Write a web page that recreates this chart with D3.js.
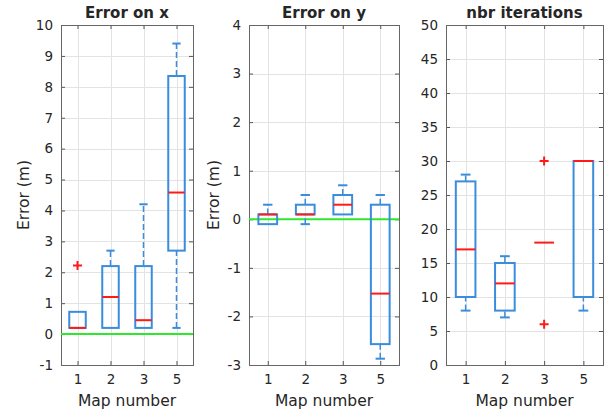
<!DOCTYPE html>
<html>
<head>
<meta charset="utf-8">
<script src="https://cdn.jsdelivr.net/npm/d3@7"></script>
<style>
  body { margin: 0; background: #fff; }
  text { font-family: "DejaVu Sans", sans-serif; fill: #262626; }
</style>
</head>
<body>
<div id="chart"></div>
<script>
// categories
var maps = ["1", "2", "3", "5"];

// box stats per map: [lower whisker, q1, median, q3, upper whisker]
var errXStats = [[0.2, 0.2, 0.2, 0.72, 0.72], [0.2, 0.2, 1.2, 2.2, 2.7], [0.2, 0.2, 0.45, 2.2, 4.2], [0.2, 2.7, 4.58, 8.35, 9.4]];
var errXOut = [[2.22], [], [], []];

var errYStats = [[-0.1, -0.1, 0.1, 0.1, 0.3], [-0.1, 0.1, 0.1, 0.3, 0.5], [0.1, 0.1, 0.3, 0.5, 0.7], [-2.87, -2.57, -1.53, 0.3, 0.5]];
var errYOut = [[], [], [], []];

var iterStats = [[8, 10, 17, 27, 28], [7, 8, 12, 15, 16], [18, 18, 18, 18, 18], [8, 10, 30, 30, 30]];
var iterOut = [[], [], [30, 6], []];

// tick labels
var errXTicks = d3.range(-1, 11, 1);
var errYTicks = d3.range(-3, 5, 1);
var iterTicks = d3.range(0, 55, 5);

var W = 613, H = 413, plotTop = 25, plotBottom = 365;
var blue = "#3a8ddc", red = "#ff1a1a", green = "#2ee82e";

var panels = [
  {title: "Error on x", left: 61, right: 193, domain: [-1, 10], ticks: errXTicks, stats: errXStats, out: errXOut, zero: true, ylabel: "Error (m)", ylx: 24},
  {title: "Error on y", left: 249, right: 399, domain: [-3, 4], ticks: errYTicks, stats: errYStats, out: errYOut, zero: true, ylabel: "Error (m)", ylx: 214},
  {title: "nbr iterations", left: 446, right: 603, domain: [0, 50], ticks: iterTicks, stats: iterStats, out: iterOut, zero: false}
];

var svg = d3.select("#chart").append("svg")
  .attr("width", W)
  .attr("height", H);

panels.forEach(function (p) {
  var g = svg.append("g");
  var y = d3.scaleLinear().domain(p.domain).range([plotBottom, plotTop]);
  var x = d3.scalePoint().domain(maps).range([p.left, p.right]).padding(0.5);
  var step = x.step();
  var bw = step * 0.5, cw = step * 0.25;

  // grid
  g.selectAll(".hgrid").data(p.ticks).enter().append("line")
    .attr("x1", p.left).attr("x2", p.right)
    .attr("y1", function (d) { return Math.round(y(d)) + 0.5; })
    .attr("y2", function (d) { return Math.round(y(d)) + 0.5; })
    .attr("stroke", "#e3e3e3");
  g.selectAll(".vgrid").data(maps).enter().append("line")
    .attr("x1", function (d) { return Math.round(x(d)) + 0.5; })
    .attr("x2", function (d) { return Math.round(x(d)) + 0.5; })
    .attr("y1", plotTop).attr("y2", plotBottom)
    .attr("stroke", "#e3e3e3");

  // axes with inner ticks
  var fmt = function (d) { return String(d); };
  var yl = d3.axisLeft(y).tickValues(p.ticks).tickFormat(fmt).tickSizeInner(-4).tickSizeOuter(0).tickPadding(8);
  var yr = d3.axisRight(y).tickValues(p.ticks).tickSizeInner(-4).tickSizeOuter(0).tickFormat("");
  var xb = d3.axisBottom(x).tickSizeInner(-4).tickSizeOuter(0).tickPadding(9);
  var xt = d3.axisTop(x).tickSizeInner(-4).tickSizeOuter(0).tickFormat("");

  [[yl, "translate(" + p.left + ",0)"], [yr, "translate(" + p.right + ",0)"],
   [xb, "translate(0," + plotBottom + ")"], [xt, "translate(0," + plotTop + ")"]].forEach(function (a) {
    var ax = g.append("g").attr("transform", a[1]).call(a[0]);
    ax.select(".domain").remove();
    ax.selectAll("line").attr("stroke", "#555");
    ax.selectAll("text").style("font-size", "13.5px").attr("fill", "#262626");
  });

  g.append("rect")
    .attr("x", p.left + 0.5).attr("y", plotTop + 0.5)
    .attr("width", p.right - p.left).attr("height", plotBottom - plotTop)
    .attr("fill", "none").attr("stroke", "#666");

  // zero reference line
  if (p.zero) {
    g.append("line")
      .attr("x1", p.left).attr("x2", p.right)
      .attr("y1", y(0)).attr("y2", y(0))
      .attr("stroke", green).attr("stroke-width", 2);
  }

  // boxes
  var b = g.selectAll(".box").data(p.stats).enter().append("g");
  b.append("line")
    .attr("x1", function (d, i) { return x(maps[i]); })
    .attr("x2", function (d, i) { return x(maps[i]); })
    .attr("y1", function (d) { return y(d[3]); })
    .attr("y2", function (d) { return y(d[4]); })
    .attr("stroke", blue).attr("stroke-width", 1.5).attr("stroke-dasharray", "6,3");
  b.append("line")
    .attr("x1", function (d, i) { return x(maps[i]); })
    .attr("x2", function (d, i) { return x(maps[i]); })
    .attr("y1", function (d) { return y(d[0]); })
    .attr("y2", function (d) { return y(d[1]); })
    .attr("stroke", blue).attr("stroke-width", 1.5).attr("stroke-dasharray", "6,3");
  [0, 4].forEach(function (k) {
    b.filter(function (d) { return d[k] !== d[k === 0 ? 1 : 3]; }).append("line")
      .attr("x1", function (d) { return x(maps[p.stats.indexOf(d)]) - cw / 2; })
      .attr("x2", function (d) { return x(maps[p.stats.indexOf(d)]) + cw / 2; })
      .attr("y1", function (d) { return y(d[k]); })
      .attr("y2", function (d) { return y(d[k]); })
      .attr("stroke", blue).attr("stroke-width", 2);
  });
  b.append("rect")
    .attr("x", function (d, i) { return x(maps[i]) - bw / 2; })
    .attr("y", function (d) { return y(d[3]); })
    .attr("width", bw)
    .attr("height", function (d) { return y(d[1]) - y(d[3]); })
    .attr("fill", "none").attr("stroke", blue).attr("stroke-width", 2);
  b.append("line")
    .attr("x1", function (d, i) { return x(maps[i]) - bw / 2; })
    .attr("x2", function (d, i) { return x(maps[i]) + bw / 2; })
    .attr("y1", function (d) { return y(d[2]); })
    .attr("y2", function (d) { return y(d[2]); })
    .attr("stroke", red).attr("stroke-width", 2);

  // outliers
  p.out.forEach(function (vals, i) {
    vals.forEach(function (v) {
      g.append("path")
        .attr("d", "M" + (x(maps[i]) - 4.5) + "," + y(v) + "h9M" + x(maps[i]) + "," + (y(v) - 4.5) + "v9")
        .attr("stroke", red).attr("stroke-width", 2).attr("fill", "none");
    });
  });

  // labels
  g.append("text")
    .attr("x", (p.left + p.right) / 2).attr("y", 18)
    .attr("text-anchor", "middle")
    .style("font-size", "15px").style("font-weight", "bold")
    .attr("fill", "#000")
    .text(p.title);
  g.append("text")
    .attr("x", (p.left + p.right) / 2).attr("y", 406)
    .attr("text-anchor", "middle")
    .style("font-size", "15.5px")
    .text("Map number");
  if (p.ylabel) {
    g.append("text")
      .attr("transform", "translate(" + (p.ylx + 5) + "," + ((plotTop + plotBottom) / 2) + ") rotate(-90)")
      .attr("text-anchor", "middle")
      .style("font-size", "15.5px")
      .text(p.ylabel);
  }
});
</script>
</body>
</html>
